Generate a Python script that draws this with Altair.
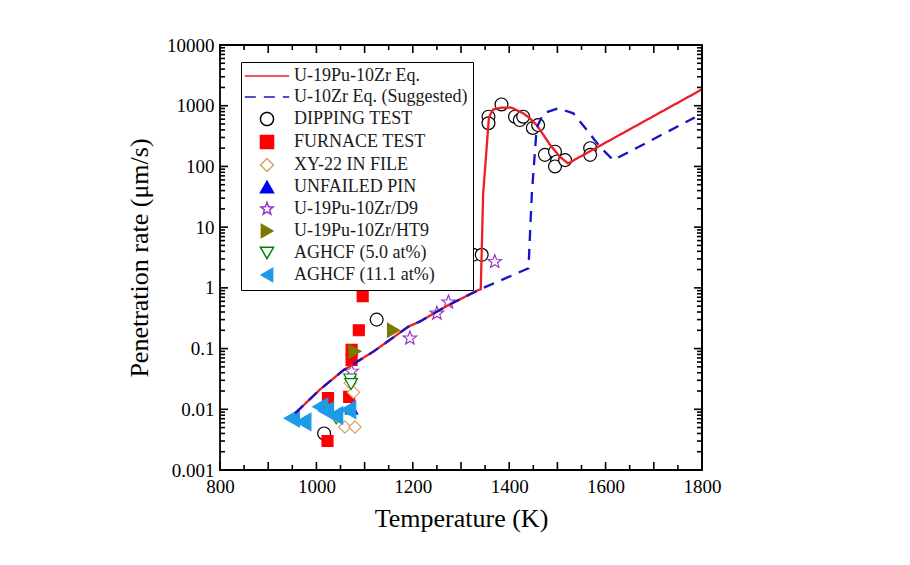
import math
import altair as alt
import pandas as pd

# ---------------- data ----------------
series = ["U-19Pu-10Zr Eq.", "U-10Zr Eq. (Suggested)", "DIPPING TEST", "FURNACE TEST",
          "XY-22 IN FILE", "UNFAILED PIN", "U-19Pu-10Zr/D9", "U-19Pu-10Zr/HT9",
          "AGHCF (5.0 at%)", "AGHCF (11.1 at%)"]

red_T = [956, 1007, 1056, 1118, 1191, 1215, 1274, 1336, 1341, 1346, 1358, 1367, 1384, 1405,
         1429, 1443, 1457, 1471, 1485, 1505, 1522, 1800]
red_V = [0.0086, 0.021, 0.044, 0.089, 0.23, 0.28, 0.52, 0.92, 0.95, 36, 650, 870, 930, 930,
         750, 620, 480, 330, 225, 145, 112, 1860]

blue_T = [956, 1007, 1056, 1118, 1191, 1215, 1274, 1336, 1440, 1447, 1457, 1471, 1502, 1533,
          1561, 1588, 1616, 1785]
blue_V = [0.0086, 0.021, 0.044, 0.089, 0.23, 0.28, 0.52, 0.92, 2.1, 36, 430, 750, 905, 750,
          400, 211, 127, 640]

dip_T = [1016, 1125, 1225, 1325, 1343, 1357, 1357, 1384, 1412, 1422, 1429, 1449, 1460, 1474,
         1495, 1499, 1495, 1516, 1568, 1568]
dip_V = [0.004, 0.3, 1.2, 3.5, 3.5, 660, 515, 1050, 660, 580, 660, 430, 480, 155,
         175, 121, 100, 127, 200, 155]

furn_T = [1023, 1024, 1068, 1073, 1073, 1088, 1096]
furn_V = [0.003, 0.0153, 0.016, 0.065, 0.095, 0.2, 0.73]

xy_T = [1070, 1077, 1059, 1080]
xy_V = [0.027, 0.019, 0.0051, 0.0051]

pin_T = [1073]
pin_V = [0.0103]

d9_T = [1073, 1194, 1250, 1274, 1370]
d9_V = [0.042, 0.148, 0.38, 0.58, 2.7]

ht9_T = [1080, 1160]
ht9_V = [0.09, 0.2]

ag5_T = [1041, 1070, 1072]
ag5_V = [0.0071, 0.031, 0.026]

ag11_T = [949, 973, 1008, 1020, 1039, 1066]
ag11_V = [0.0071, 0.0062, 0.011, 0.0094, 0.0079, 0.0098]

x_labels = [800, 1000, 1200, 1400, 1600, 1800]
y_labels = [0.001, 0.01, 0.1, 1, 10, 100, 1000, 10000]
x_major_ticks = [800, 900, 1000, 1100, 1200, 1300, 1400, 1500, 1600, 1700, 1800]
x_minor_ticks = [850, 950, 1050, 1150, 1250, 1350, 1450, 1550, 1650, 1750]
y_major_ticks = y_labels
y_minor_ticks = [m * 10.0 ** e for e in range(-3, 4) for m in range(2, 10)]

# ---------------- styles ----------------
W, H = 482, 425
RED = "#ee1c24"
BLUE = "#1414c8"
stroke_range = [RED, BLUE, "#000000", "#ff0000", "#dda066", "#0000ee", "#9933cc",
                "#7a7a00", "#008000", "#1e9be6"]
fill_range = ["transparent", "transparent", "white", "#ff0000", "white", "#0000ee",
              "white", "#7a7a00", "white", "#1e9be6"]

star_pts = []
for k in range(10):
    r = 1.0 if k % 2 == 0 else 0.42
    a = -math.pi / 2 + k * math.pi / 5
    star_pts.append(f"{r*math.cos(a):.3f},{r*math.sin(a):.3f}")
STAR = "M" + "L".join(star_pts) + "Z"
LINE_SYM = "M-3.4,0L3.4,0"
shape_range = [LINE_SYM, LINE_SYM, "circle", "square", "diamond", "triangle-up", STAR,
               "triangle-right", "triangle-down", "triangle-left"]
dash_range = [[1, 0], [11, 8], [1, 0], [1, 0], [1, 0], [1, 0], [1, 0], [1, 0], [1, 0], [1, 0]]

# ---------------- tables ----------------
rows = []
for name, Ts, Vs in [(series[0], red_T, red_V), (series[1], blue_T, blue_V)]:
    for i, (t, v) in enumerate(zip(Ts, Vs)):
        rows.append({"T": t, "V": v, "series": name, "ord": i})
lines_df = pd.DataFrame(rows)

pt_sets = [(series[2], dip_T, dip_V, 165), (series[3], furn_T, furn_V, 120),
           (series[4], xy_T, xy_V, 150), (series[5], pin_T, pin_V, 150),
           (series[6], d9_T, d9_V, 200), (series[7], ht9_T, ht9_V, 190),
           (series[8], ag5_T, ag5_V, 160), (series[9], ag11_T, ag11_V, 300)]
prow = []
for name, Ts, Vs, _ in pt_sets:
    for t, v in zip(Ts, Vs):
        prow.append({"T": t, "V": v, "series": name})
pts_df = pd.DataFrame(prow)

# ---------------- scales / legend ----------------
xs = alt.Scale(domain=[800, 1800], nice=False, zero=False)
ys = alt.Scale(type="log", domain=[0.001, 10000], nice=False)

leg = alt.Legend(title=None, orient="none", legendX=21, legendY=17, fillColor="white",
                 strokeColor="black", padding=5, symbolSize=170, symbolStrokeWidth=1.5,
                 labelFont="Liberation Serif", labelFontSize=18, labelColor="#1a1a1a",
                 rowPadding=3, symbolOffset=12, labelOffset=18, labelLimit=400)

stroke_enc = alt.Stroke("series:N", scale=alt.Scale(domain=series, range=stroke_range), legend=leg)
fill_enc = alt.Fill("series:N", scale=alt.Scale(domain=series, range=fill_range), legend=leg)
shape_enc = alt.Shape("series:N", scale=alt.Scale(domain=series, range=shape_range), legend=leg)
dash_enc = alt.StrokeDash("series:N", scale=alt.Scale(domain=series, range=dash_range), legend=leg)

# ---------------- labelled axes ----------------
lab_font = "Liberation Serif"
ax_lab_x = alt.Axis(orient="bottom", values=x_labels, format="d", ticks=False, domain=False,
                    grid=False, labelFlush=False, labelFont=lab_font, labelFontSize=19,
                    labelColor="black", labelPadding=7, title="Temperature (K)",
                    titleFont=lab_font, titleFontSize=26, titleFontWeight="normal",
                    titleColor="black", titlePadding=9)
ax_lab_y = alt.Axis(orient="left", values=y_labels, format="~g", ticks=False, domain=False,
                    grid=False, labelFlush=False, labelFont=lab_font, labelFontSize=19,
                    labelColor="black", labelPadding=6, title="Penetration rate (μm/s)",
                    titleFont=lab_font, titleFontSize=26, titleFontWeight="normal",
                    titleColor="black", titlePadding=14)

axes_layer = alt.Chart(pts_df).mark_point(opacity=0, size=1).encode(
    x=alt.X("T:Q", scale=xs, axis=ax_lab_x), y=alt.Y("V:Q", scale=ys, axis=ax_lab_y))

# ---------------- inward ticks on all four sides ----------------
tick_layers = []
for vals, ln in [(x_major_ticks, 8), (x_minor_ticks, 5)]:
    tdf = pd.DataFrame({"T": vals})
    for y0, y1 in [(H, H - ln), (0, ln)]:
        tick_layers.append(alt.Chart(tdf).mark_rule(color="#000000", strokeWidth=1.6).encode(
            x=alt.X("T:Q", scale=xs, axis=None), y=alt.value(y0), y2=alt.value(y1)))
for vals, ln in [(y_major_ticks, 8), (y_minor_ticks, 5)]:
    tdf = pd.DataFrame({"V": vals})
    for x0, x1 in [(0, ln), (W, W - ln)]:
        tick_layers.append(alt.Chart(tdf).mark_rule(color="#000000", strokeWidth=1.6).encode(
            y=alt.Y("V:Q", scale=ys, axis=None), x=alt.value(x0), x2=alt.value(x1)))

# right edge of the frame, drawn at the top end of the x scale
edge_df = pd.DataFrame({"T": [x_labels[-1]]})
tick_layers.append(alt.Chart(edge_df).mark_rule(color="#000000", strokeWidth=1.8).encode(
    x=alt.X("T:Q", scale=xs, axis=None), y=alt.value(0), y2=alt.value(H)))

# ---------------- data layers ----------------
point_layers = []
for name, _, _, sz in pt_sets:
    point_layers.append(
        alt.Chart(pts_df).transform_filter(alt.datum.series == name)
        .mark_point(filled=True, size=sz, strokeWidth=1.2, opacity=1)
        .encode(x=alt.X("T:Q", scale=xs, axis=None), y=alt.Y("V:Q", scale=ys, axis=None),
                stroke=stroke_enc, fill=fill_enc, shape=shape_enc)
    )

lines = alt.Chart(lines_df).mark_line(strokeWidth=2.3).encode(
    x=alt.X("T:Q", scale=xs, axis=None), y=alt.Y("V:Q", scale=ys, axis=None),
    stroke=stroke_enc, strokeDash=dash_enc, order="ord:Q", detail="series:N")

chart = alt.layer(axes_layer, *point_layers, lines, *tick_layers).resolve_axis(
    x="independent", y="independent"
).properties(
    width=W, height=H, autosize="none",
    padding={"left": 220, "top": 45, "right": 208, "bottom": 95},
    background="white",
).configure_view(stroke="black", strokeWidth=1.8)

chart.save("out.html", embed_options={"renderer": "svg", "actions": False})
